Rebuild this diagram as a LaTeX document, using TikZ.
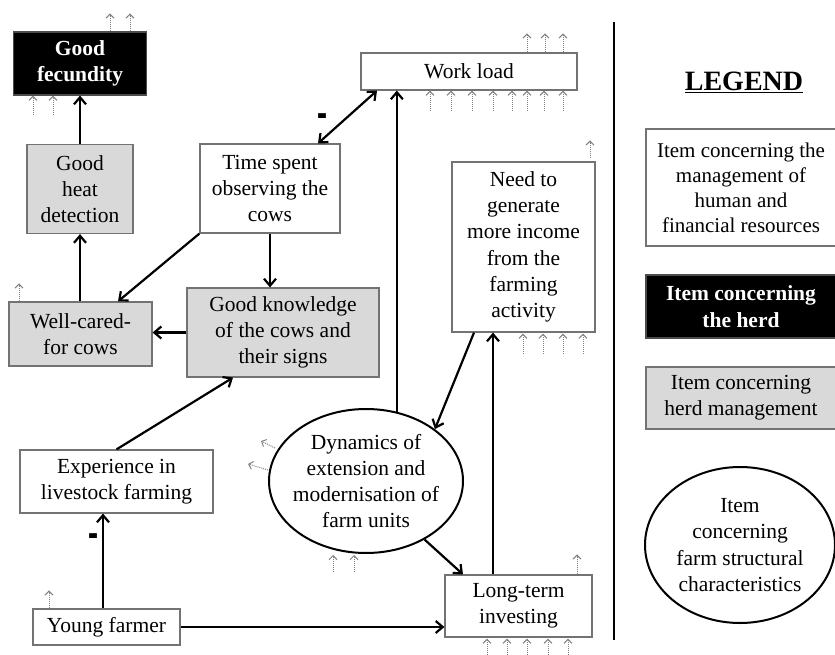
\documentclass[tikz,border=0pt]{standalone}
\usepackage{fontspec}
\setmainfont{Liberation Serif}
\usetikzlibrary{arrows.meta,shapes.geometric}
\begin{document}
\begin{tikzpicture}[x=1pt,y=-1pt,
 txt/.style={font=\fontsize{21.5pt}{26.3pt}\selectfont, align=center, inner sep=0pt},
 wbox/.style={txt, rectangle, draw=black!55, line width=1.2pt, fill=white},
 gbox/.style={wbox, fill=black!15},
 bbox/.style={txt, rectangle, draw=black!70, line width=1.2pt, fill=black, text=white, font=\fontsize{21.5pt}{26.3pt}\selectfont\bfseries},
 ell/.style={ellipse, inner sep=0pt, draw=black, line width=2pt, fill=white},
 sz/.style 2 args={minimum width=#1, minimum height=#2},
 arr/.style={line width=2.2pt, -{Straight Barb[length=7pt,width=12pt]}},
 dbl/.style={line width=2.2pt, {Straight Barb[length=7pt,width=12pt]}-{Straight Barb[length=7pt,width=12pt]}},
 ext/.style={draw=black!50, densely dotted, line width=1pt, -{Straight Barb[length=4pt,width=8pt]}},
 minus/.style={font=\fontsize{30pt}{30pt}\selectfont\bfseries, inner sep=0pt, transform shape, yscale=1.9}
]
\useasboundingbox (0,0) rectangle (835,655);
\clip (0,0) rectangle (835,655);

% main nodes
\node[bbox, sz={133pt}{63pt}] (fec) at (80,63.5) {Good\\fecundity};
\node[gbox, sz={106pt}{89pt}] (heat) at (80,189) {Good\\heat\\detection};
\node[wbox, sz={140pt}{89pt}] (time) at (270,188.5) {Time spent\\observing the\\cows};
\node[gbox, sz={143pt}{64pt}] (well) at (80.5,334) {Well-cared-\\for cows};
\node[gbox, sz={192pt}{89pt}] (know) at (283,332.5) {Good knowledge\\of the cows and\\their signs};
\node[wbox, sz={216pt}{37pt}] (wl) at (469,71.5) {Work load};
\node[wbox, sz={143pt}{170pt}] (need) at (523.5,247) {Need to\\generate\\more income\\from the\\farming\\activity};
\node[ell, sz={194pt}{144pt}] (dyn) at (366,481) {};
\node[txt] (dyntxt) at (dyn.center) {Dynamics of\\extension and\\modernisation of\\farm units};
\node[wbox, sz={147pt}{62pt}] (lt) at (518.5,606) {Long-term\\investing};
\node[wbox, sz={193pt}{63pt}] (exp) at (116.5,481.5) {Experience in\\livestock farming};
\node[wbox, sz={147pt}{36pt}] (young) at (106.5,627) {Young farmer};

% divider
\coordinate (dtop) at (614,22);
\coordinate (dbot) at (614,640);
\draw[line width=2.2pt] (dtop) -- (dbot);

% legend
\node[font=\fontsize{28pt}{30pt}\selectfont\bfseries, inner sep=0pt] (legt) at (744,82) {\underline{LEGEND}};
\node[wbox, sz={190pt}{117pt}, font=\fontsize{21pt}{25pt}\selectfont] (lg1) at (741,187.5) {Item concerning the\\management of\\human and\\financial resources};
\node[bbox, sz={190pt}{63pt}] (lg2) at (741,306.5) {Item concerning\\the herd};
\node[gbox, sz={190pt}{62pt}] (lg3) at (741,398) {Item concerning\\herd management};
\node[ell, sz={190pt}{156pt}] (lg4) at (740,545) {};
\node[txt] (lg4txt) at (lg4.center) {Item\\concerning\\farm structural\\characteristics};

% main connectors
\draw[arr] (heat.north) -- (fec.south);
\draw[arr] (well.north -| heat.north) -- (heat.south);
\draw[arr] (time.south west) -- (well.north -| 118,0);
\draw[arr] (time.south) -- (time.south |- know.north);
\draw[arr] (know.west) -- (know.west -| well.east);
\draw[dbl] (time.north -| 318,0) -- (wl.south west -| 377,0);
\node[minus] (m1) at (322,122) {-};
\draw[arr] (exp.north) -- (know.south west -| 233,0);
\draw[arr] (young.north -| 103,0) -- (exp.south -| 103,0);
\node[minus] (m2) at (93,542) {-};
\draw[arr] (young.east) -- (young.east -| lt.west);
\draw[arr] (dyn.66) -- (dyn.66 |- wl.south);
\draw[arr] (need.south -| 474,0) -- (dyn.37);
\draw[arr] (dyn.-45) -- (lt.north west -| 463,0);
\draw[arr] (lt.north -| 493,0) -- (need.south -| 493,0);

% external influence markers
\foreach \x in {110,130} \draw[ext] (fec.north -| \x,0) -- ++(0,-18);
\foreach \x in {33,53} \draw[ext] (fec.south -| \x,0) ++(0,19) -- ++(0,-19);
\foreach \x in {527,545,563} \draw[ext] (wl.north -| \x,0) -- ++(0,-19);
\foreach \x in {430,451,472,493,512,527,544,563} \draw[ext] (wl.south -| \x,0) ++(0,20) -- ++(0,-20);
\draw[ext] (need.north -| 590,0) ++(0,-3) -- ++(0,-18);
\foreach \x in {523,543,563,583} \draw[ext] (need.south -| \x,0) ++(0,21) -- ++(0,-20);
\draw[ext] (well.north -| 19,0) -- ++(0,-18);
\draw[ext] (dyn.west) ++(7,-33) -- ++(-14,-7);
\draw[ext] (dyn.west) ++(0,-11) -- ++(-20,-6);
\foreach \x in {333,354} \draw[ext] (dyn.south -| \x,0) ++(0,18) -- ++(0,-17);
\draw[ext] (lt.north -| 577,0) -- ++(0,-20);
\foreach \x in {487,507,527,548,568} \draw[ext] (lt.south -| \x,0) ++(0,19) -- ++(0,-18);
\draw[ext] (young.north -| 49,0) -- ++(0,-18);
\end{tikzpicture}
\end{document}
